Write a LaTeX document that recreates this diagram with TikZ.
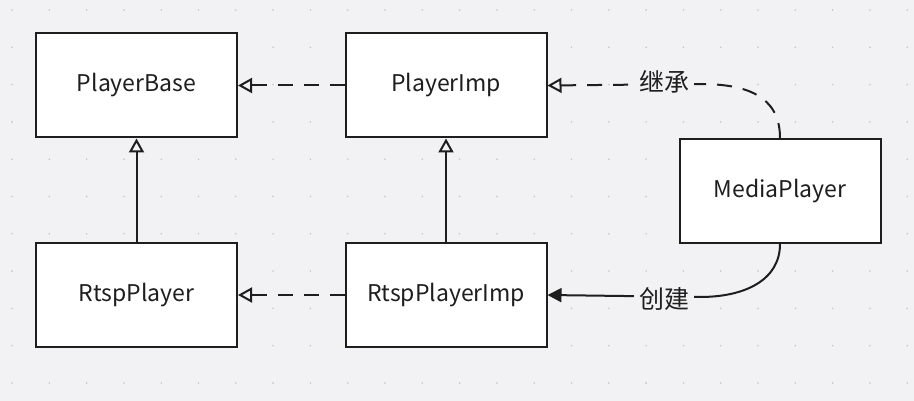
\documentclass[tikz,border=0pt]{standalone}
\usepackage{fontspec}
\setmainfont{Noto Sans CJK SC}
\usetikzlibrary{arrows.meta}
\definecolor{bgc}{HTML}{F2F2F4}
\definecolor{ink}{HTML}{1E1E1E}
\tikzset{
  box/.style={draw=ink,line width=2pt,fill=white,minimum width=201pt,minimum height=104pt,inner sep=0pt,font=\fontsize{23}{26}\selectfont,text=ink},
  conn/.style={draw=ink,line width=2pt},
  dsh/.style={dash pattern=on 15pt off 11pt},
  opentip/.style={-{Triangle[open,length=14pt 0 0,width=15pt 0 0,fill=bgc,line width=2pt]}},
  filltip/.style={-{Triangle[length=14pt 0 0,width=14pt 0 0]}},
  lbl/.style={fill=bgc,inner sep=5pt,font=\fontsize{25}{28}\selectfont,text=ink}
}
\begin{document}
\begin{tikzpicture}[x=1pt,y=-1pt]
\fill[bgc] (0,0) rectangle (914,401);
\useasboundingbox (0,0) rectangle (914,401);
\foreach \i in {0,...,24}{\foreach \j in {0,...,10}{
  \fill[gray!45] (12+37.3*\i,10+37.3*\j) circle (0.9pt);}}
\node[box] (pb) at (136.5,85.5) {PlayerBase};
\node[box] (pi) at (446,85.5) {PlayerImp};
\node[box] (mp) at (780,191) {MediaPlayer};
\node[box] (rp) at (136.5,295) {RtspPlayer};
\node[box] (ri) at (446,295) {RtspPlayerImp};
\draw[conn,dsh,opentip] (pi) -- (pb);
\draw[conn,dsh,opentip] (ri) -- (rp);
\draw[conn,opentip] (rp) -- (pb);
\draw[conn,opentip] (ri) -- (pi);
\coordinate (c1) at (700,84);
\coordinate (c2) at (700,297);
\draw[conn,dsh,opentip] (mp.north) .. controls (780,95) and (745,84) .. (c1) -- (pi.east);
\draw[conn,filltip] (mp.south) .. controls (780,280) and (745,297) .. (c2) -- (ri.east);
\node[lbl] (l1) at (664,82) {继承};
\node[lbl] (l2) at (664,299) {创建};
\end{tikzpicture}
\end{document}
